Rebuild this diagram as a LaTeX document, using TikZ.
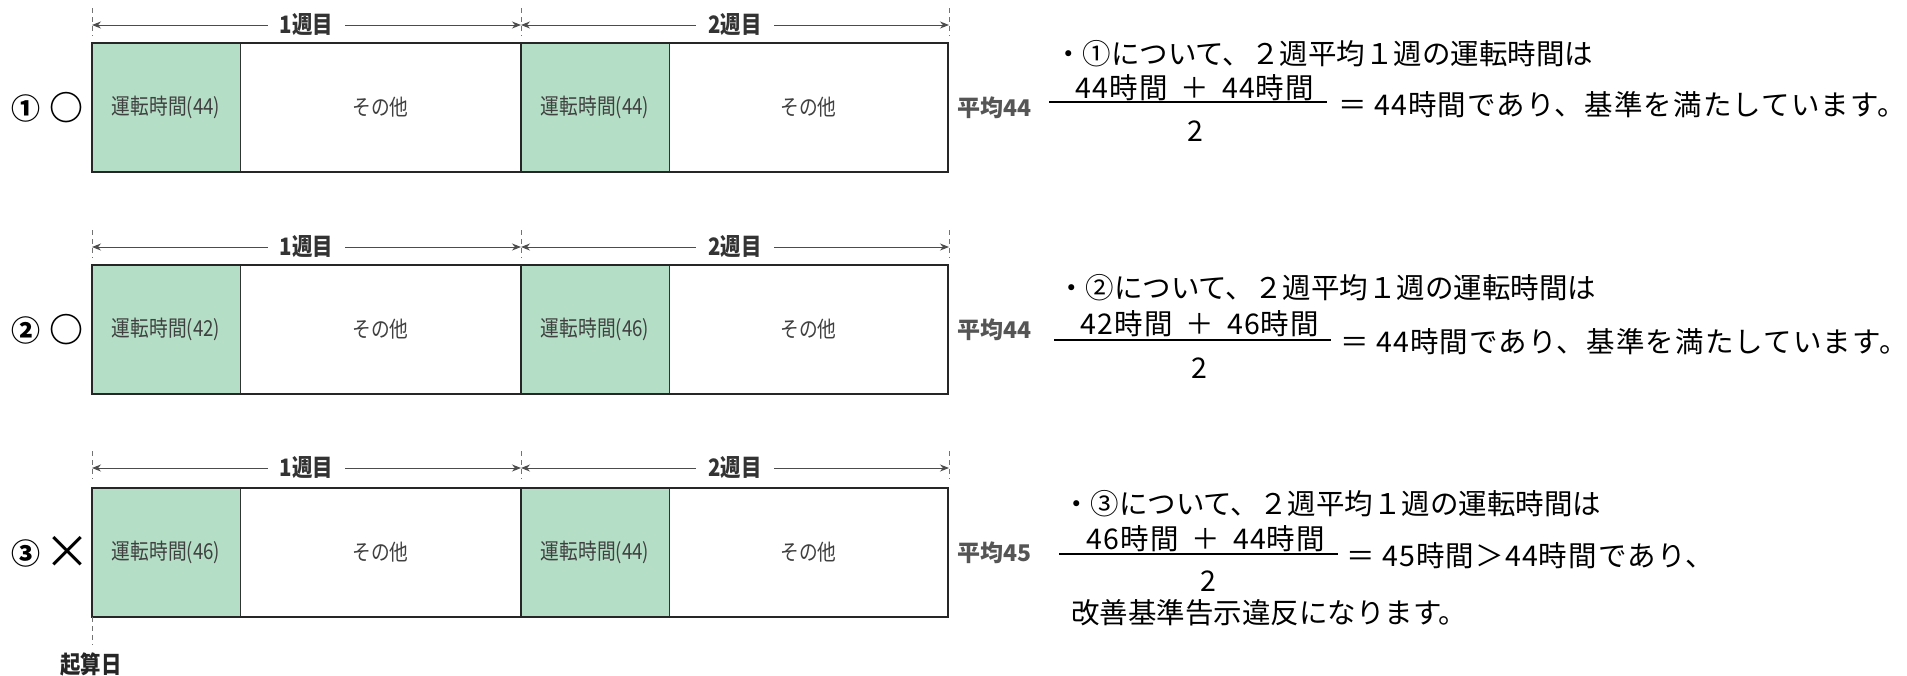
\documentclass[tikz,border=0pt]{standalone}
\usepackage{fontspec}
\setmainfont{Noto Sans CJK JP}
\newfontfamily\narrowjp{Noto Sans CJK JP}[FakeStretch=0.85]
\newfontfamily\widejp{Noto Sans CJK JP}[LetterSpace=4]
\usetikzlibrary{arrows.meta,positioning}
\definecolor{drivegreen}{HTML}{B4DFC6}
\definecolor{labelgray}{HTML}{555555}
\newcommand\txtcell{\narrowjp\fontsize{22pt}{24pt}\selectfont}
\newcommand\txtweek{\narrowjp\bfseries\fontsize{24pt}{26pt}\selectfont}
\newcommand\txtavg{\bfseries\fontsize{23pt}{25pt}\selectfont}
\newcommand\txtnote{\fontsize{28.5pt}{32pt}\selectfont}
\newcommand\txtsum{\widejp\fontsize{28.5pt}{32pt}\selectfont}
\newcommand\txtnum{\bfseries\fontsize{29pt}{32pt}\selectfont}
\newcommand\txtmark{\fontsize{34pt}{36pt}\selectfont}
\newcommand\txtcross{\fontsize{46pt}{48pt}\selectfont}
\newcommand\gap{\hspace{0.45em}}

\begin{document}
\begin{tikzpicture}[x=1pt,y=-1pt,
  cell/.style={draw=black!80, line width=1pt, minimum height=129pt, inner sep=0pt, outer sep=0pt, font=\txtcell, text=black!75},
  drive/.style={cell, fill=drivegreen},
  rest/.style={cell, fill=white},
  frame/.style={draw=black!85, line width=2.5pt},
  tick/.style={draw=black!55, line width=0.8pt, dash pattern=on 5pt off 4pt},
  span/.style={draw=black!70, line width=1pt, {Stealth[length=9pt,width=7pt]}-{Stealth[length=9pt,width=7pt]}},
  week/.style={fill=white, inner xsep=12pt, inner ysep=1pt, font=\txtweek, text=black!80},
  avg/.style={anchor=west, inner sep=0pt, font=\txtavg, text=labelgray},
  note/.style={inner sep=0pt, font=\txtnote},
  sum/.style={inner sep=0pt, font=\txtsum},
  bar/.style={line width=2pt}
]
\useasboundingbox (0,0) rectangle (1907,675);

\coordinate (a10) at (92,25);
\coordinate (a11) at (521,25);
\coordinate (a12) at (949,25);
\draw[tick] (a10) ++(0,-17) -- ++(0,28);
\draw[tick] (a11) ++(0,-17) -- ++(0,28);
\draw[tick] (a12) ++(0,-17) -- ++(0,28);
\draw[span] (a10) -- node[week] {1週目} (a11);
\draw[span] (a11) -- node[week] {2週目} (a12);

\node[drive, minimum width=148pt, anchor=north west] (g11) at (92,43) {運転時間(44)};
\node[rest, minimum width=281pt, right=0pt of g11] (r11) {その他};
\node[drive, minimum width=148pt, right=0pt of r11] (g12) {運転時間(44)};
\node[rest, minimum width=279pt, right=0pt of g12] (r12) {その他};
\draw[frame] (g11.north west) rectangle (r12.south east);
\draw[black!85, line width=2pt] (g12.north west) -- (g12.south west);

\node[font=\txtnum] (n1) at (26,108) {①};
\node[font=\txtmark\bfseries] (m1) at (66,108) {○};
\node[avg] (v1) at (957,108) {平均44};

\node[note, anchor=west] (s1) at (1054,54) {・①について、２週平均１週の運転時間は};
\node[sum] (f1) at (1195,88) {44時間\gap＋\gap44時間};
\coordinate (b1l) at (1049,102);
\coordinate (b1r) at (1327,102);
\draw[bar] (b1l) -- (b1r);
\node[note] (d1) at (1195,131) {2};
\node[sum, anchor=west] (e1) at (1338,105) {＝ 44時間であり、基準を満たしています。};

\coordinate (a20) at (92,247);
\coordinate (a21) at (521,247);
\coordinate (a22) at (949,247);
\draw[tick] (a20) ++(0,-17) -- ++(0,28);
\draw[tick] (a21) ++(0,-17) -- ++(0,28);
\draw[tick] (a22) ++(0,-17) -- ++(0,28);
\draw[span] (a20) -- node[week] {1週目} (a21);
\draw[span] (a21) -- node[week] {2週目} (a22);

\node[drive, minimum width=148pt, anchor=north west] (g21) at (92,265) {運転時間(42)};
\node[rest, minimum width=281pt, right=0pt of g21] (r21) {その他};
\node[drive, minimum width=148pt, right=0pt of r21] (g22) {運転時間(46)};
\node[rest, minimum width=279pt, right=0pt of g22] (r22) {その他};
\draw[frame] (g21.north west) rectangle (r22.south east);
\draw[black!85, line width=2pt] (g22.north west) -- (g22.south west);

\node[font=\txtnum] (n2) at (26,330) {②};
\node[font=\txtmark\bfseries] (m2) at (66,330) {○};
\node[avg] (v2) at (957,330) {平均44};

\node[note, anchor=west] (s2) at (1057,288) {・②について、２週平均１週の運転時間は};
\node[sum] (f2) at (1200,324) {42時間\gap＋\gap46時間};
\coordinate (b2l) at (1054,340);
\coordinate (b2r) at (1331,340);
\draw[bar] (b2l) -- (b2r);
\node[note] (d2) at (1199,368) {2};
\node[sum, anchor=west] (e2) at (1340,342) {＝ 44時間であり、基準を満たしています。};

\coordinate (a30) at (92,468);
\coordinate (a31) at (521,468);
\coordinate (a32) at (949,468);
\draw[tick] (a30) ++(0,-17) -- ++(0,28);
\draw[tick] (a31) ++(0,-17) -- ++(0,28);
\draw[tick] (a32) ++(0,-17) -- ++(0,28);
\draw[span] (a30) -- node[week] {1週目} (a31);
\draw[span] (a31) -- node[week] {2週目} (a32);

\node[drive, minimum width=148pt, anchor=north west] (g31) at (92,488) {運転時間(46)};
\node[rest, minimum width=281pt, right=0pt of g31] (r31) {その他};
\node[drive, minimum width=148pt, right=0pt of r31] (g32) {運転時間(44)};
\node[rest, minimum width=279pt, right=0pt of g32] (r32) {その他};
\draw[frame] (g31.north west) rectangle (r32.south east);
\draw[black!85, line width=2pt] (g32.north west) -- (g32.south west);
\draw[tick] (g31.south west) -- ++(0,28);
\node[font=\txtweek, text=black!85] (k0) at (91,664) {起算日};

\node[font=\txtnum] (n3) at (26,553) {③};
\node[font=\txtcross] (m3) at (67,552) {×};
\node[avg] (v3) at (957,553) {平均45};

\node[note, anchor=west] (s3) at (1062,504) {・③について、２週平均１週の運転時間は};
\node[sum] (f3) at (1206,539) {46時間\gap＋\gap44時間};
\coordinate (b3l) at (1059,554);
\coordinate (b3r) at (1338,554);
\draw[bar] (b3l) -- (b3r);
\node[note] (d3) at (1208,581) {2};
\node[sum, anchor=west] (e3) at (1346,556) {＝ 45時間＞44時間であり、};
\node[note, anchor=west] (t3) at (1071,613) {改善基準告示違反になります。};

\end{tikzpicture}
\end{document}
